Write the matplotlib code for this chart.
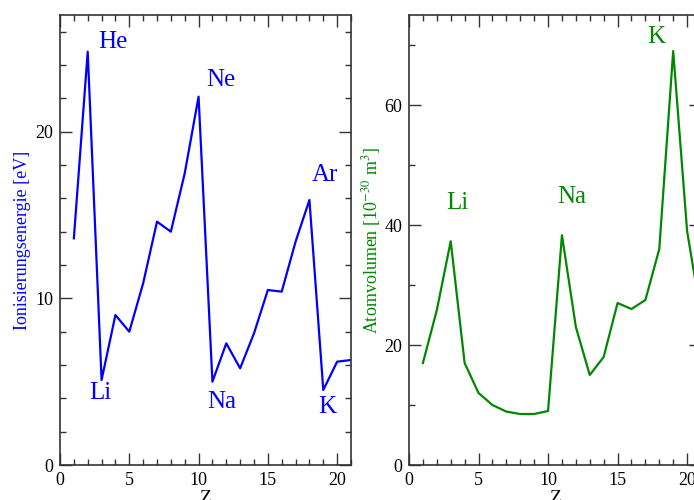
import matplotlib
matplotlib.use("Agg")
import matplotlib.pyplot as plt
from matplotlib.ticker import MultipleLocator

plt.rcParams["font.family"] = ["Liberation Serif", "DejaVu Serif"]
plt.rcParams["mathtext.fontset"] = "stix"

# atomic number
z = list(range(1, 22))

# first ionisation energy in eV
ionisation = [13.6, 24.8, 5.1, 9.0, 8.0, 10.9, 14.6, 14.0, 17.5, 22.1,
              5.0, 7.3, 5.8, 7.9, 10.5, 10.4, 13.4, 15.9, 4.5, 6.2, 6.3]

# atomic volume in 10^-30 m^3
volume = [17.0, 25.8, 37.3, 17.0, 12.0, 10.0, 8.9, 8.5, 8.5, 9.0,
          38.3, 23.0, 15.0, 18.0, 27.0, 26.0, 27.5, 36.0, 69.0, 39.0, 25.0]

# element labels: (text, z position, value position)
ion_labels = [("He", 3.8, 25.4), ("Ne", 11.6, 23.1), ("Ar", 19.1, 17.4),
              ("Li", 2.9, 4.3), ("Na", 11.7, 3.8), ("K", 19.3, 3.5)]
vol_labels = [("Li", 3.45, 43.7), ("Na", 11.7, 44.7), ("K", 17.8, 71.3)]

blue = "#0000ff"
green = "#008800"

fig = plt.figure(figsize=(6.94, 5.0), dpi=100)
ax1 = fig.add_axes([60 / 694, 35 / 500, 291 / 694, 450 / 500])
ax2 = fig.add_axes([409 / 694, 35 / 500, 292 / 694, 450 / 500])


def style(ax, ymax, ymajor, yminor):
    ax.set_xlim(0, 21)
    ax.set_ylim(0, ymax)
    ax.xaxis.set_major_locator(MultipleLocator(5))
    ax.xaxis.set_minor_locator(MultipleLocator(1))
    ax.yaxis.set_major_locator(MultipleLocator(ymajor))
    ax.yaxis.set_minor_locator(MultipleLocator(yminor))
    ax.tick_params(which="both", direction="in", top=True, right=True,
                   width=1.0, color="#333333")
    ax.tick_params(which="major", length=8.5, labelsize=13, pad=5)
    ax.tick_params(which="minor", length=4.5)
    for s in ax.spines.values():
        s.set_linewidth(1.2)
        s.set_color("#333333")
    ax.set_xlabel("Z", fontsize=14, labelpad=1)


ax1.plot(z, ionisation, color=blue, lw=1.6)
style(ax1, 27, 10, 2)
ax1.set_ylabel("Ionisierungsenergie [eV]", color=blue, fontsize=13)
ax1.yaxis.set_label_coords(-0.10, 0.5)
for name, x, y in ion_labels:
    ax1.text(x, y, name, color=blue, fontsize=18, ha="center", va="center")

ax2.plot(z, volume, color=green, lw=1.6)
style(ax2, 75, 20, 10)
ax2.set_ylabel(r"Atomvolumen [10$^{-30}$ m$^3$]", color=green, fontsize=13)
ax2.yaxis.set_label_coords(-0.088, 0.5)
for name, x, y in vol_labels:
    ax2.text(x, y, name, color=green, fontsize=18, ha="center", va="center")

fig.savefig("out.png", dpi=100)
plt.close(fig)
